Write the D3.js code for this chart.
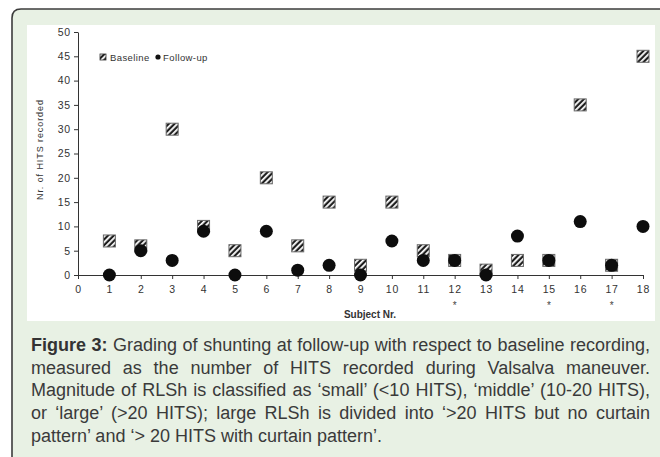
<!DOCTYPE html>
<html>
<head>
<meta charset="utf-8">
<script src="https://cdn.jsdelivr.net/npm/d3@7"></script>
<style>
  body { margin: 0; background: #fff; width: 660px; height: 457px; overflow: hidden; position: relative; }
  svg { position: absolute; left: 0; top: 0; }
  .caption {
    position: absolute; left: 31px; top: 334px; width: 619px;
    font-family: "Liberation Sans", Arial, sans-serif; font-size: 18px;
    line-height: 22.7px; color: #3a3a3a; text-align: justify;
  }
  .caption b { color: #333; }
</style>
</head>
<body>
<script>
// subject numbers and HITS counts
const subjects = d3.range(1, 19);
const baseline = [7, 6, 30, 10, 5, 20, 6, 15, 2, 15, 5, 3, 1, 3, 3, 35, 2, 45];
const followUp = [0, 5, 3, 9, 0, 9, 1, 2, 0, 7, 3, 3, 0, 8, 3, 11, 2, 10];
const starred = [12, 15, 17];
const yTicks = [0, 5, 10, 15, 20, 25, 30, 35, 40, 45, 50];
const xTicks = d3.range(0, 19);

const W = 660, H = 457;
const svg = d3.select('body').append('svg')
    .attr('width', W)
    .attr('height', H);

// hatch pattern for the baseline squares
const defs = svg.append('defs');
const pat = defs.append('pattern')
    .attr('id', 'hatch')
    .attr('patternUnits', 'userSpaceOnUse')
    .attr('width', 4)
    .attr('height', 4)
    .attr('patternTransform', 'rotate(45)');
pat.append('rect').attr('width', 4).attr('height', 4).attr('fill', '#1e1e1e');
pat.append('rect').attr('width', 1.8).attr('height', 4).attr('fill', '#fff');

// green frame with rounded top-left corner
svg.append('path')
    .attr('d', 'M12,460 L12,18 Q12,9 21,9 L662,9 L662,460 Z')
    .attr('fill', '#e8f1e4')
    .attr('stroke', '#3c3c3c')
    .attr('stroke-width', 1.6);

// white plot panel
svg.append('rect')
    .attr('x', 27).attr('y', 25)
    .attr('width', 628).attr('height', 296)
    .attr('fill', '#fff');

const x = d3.scaleLinear().domain([0, 18]).range([78, 643]);
const y = d3.scaleLinear().domain([0, 50]).range([275, 32]);

const tickFont = '"Liberation Sans", Arial, sans-serif';

// y axis
const yAxis = svg.append('g')
    .attr('transform', `translate(${x(0)},0)`)
    .call(d3.axisLeft(y).tickValues(yTicks).tickSize(4).tickPadding(3).tickSizeOuter(0));
yAxis.select('.domain').attr('stroke', '#333');
yAxis.selectAll('.tick line').attr('stroke', '#333');
yAxis.selectAll('text')
    .attr('fill', '#333')
    .style('font-family', tickFont)
    .style('font-size', '10.5px')
    .style('letter-spacing', '0.8px');

// x axis
const xAxis = svg.append('g')
    .attr('transform', `translate(0,${y(0)})`)
    .call(d3.axisBottom(x).tickValues(xTicks).tickFormat(d3.format('d')).tickSize(4).tickPadding(6.5).tickSizeOuter(0));
xAxis.select('.domain').attr('stroke', '#333');
xAxis.selectAll('.tick line').attr('stroke', '#333');
xAxis.selectAll('text')
    .attr('fill', '#333')
    .style('font-family', tickFont)
    .style('font-size', '10.5px')
    .style('letter-spacing', '0.8px');

// asterisks under some subjects
svg.append('g')
    .selectAll('text')
    .data(starred)
    .enter().append('text')
    .attr('x', d => x(d))
    .attr('y', 309)
    .attr('text-anchor', 'middle')
    .attr('fill', '#444')
    .style('font-family', tickFont)
    .style('font-size', '10px')
    .text('*');

// axis titles
svg.append('text')
    .attr('x', 370)
    .attr('y', 318)
    .attr('text-anchor', 'middle')
    .attr('fill', '#333')
    .style('font-family', tickFont)
    .style('font-size', '10px')
    .style('font-weight', 'bold')
    .text('Subject Nr.');

svg.append('text')
    .attr('transform', 'translate(43,150) rotate(-90)')
    .attr('text-anchor', 'middle')
    .attr('fill', '#333')
    .attr('textLength', 100)
    .style('font-family', tickFont)
    .style('font-size', '9px')
    .text('Nr. of HITS recorded');

// baseline squares
const sq = 12;
svg.append('g')
    .selectAll('rect')
    .data(subjects)
    .enter().append('rect')
    .attr('x', (d, i) => x(d) - sq / 2)
    .attr('y', (d, i) => y(baseline[i]) - sq / 2)
    .attr('width', sq)
    .attr('height', sq)
    .attr('fill', 'url(#hatch)')
    .attr('stroke', '#6a6a6a')
    .attr('stroke-width', 1);

// follow-up dots
svg.append('g')
    .selectAll('circle')
    .data(subjects)
    .enter().append('circle')
    .attr('cx', d => x(d))
    .attr('cy', (d, i) => y(followUp[i]))
    .attr('r', 6.5)
    .attr('fill', '#0d0d0d');

// legend
const leg = svg.append('g').attr('transform', 'translate(103,57)');
leg.append('rect')
    .attr('x', -3).attr('y', -3)
    .attr('width', 6).attr('height', 6)
    .attr('fill', 'url(#hatch)')
    .attr('stroke', '#333')
    .attr('stroke-width', 0.8);
leg.append('text')
    .attr('x', 7).attr('y', 3.5)
    .attr('fill', '#333')
    .style('font-family', tickFont)
    .style('font-size', '9.5px')
    .style('letter-spacing', '0.4px')
    .text('Baseline');
leg.append('circle')
    .attr('cx', 55).attr('cy', 0)
    .attr('r', 2.6)
    .attr('fill', '#111');
leg.append('text')
    .attr('x', 60).attr('y', 3.5)
    .attr('fill', '#333')
    .style('font-family', tickFont)
    .style('font-size', '9.5px')
    .style('letter-spacing', '0.4px')
    .text('Follow-up');

// caption
d3.select('body').append('div')
    .attr('class', 'caption')
    .html('<b>Figure 3:</b> Grading of shunting at follow-up with respect to baseline recording, measured as the number of HITS recorded during Valsalva maneuver. Magnitude of RLSh is classified as \u2018small\u2019 (&lt;10 HITS), \u2018middle\u2019 (10-20 HITS), or \u2018large\u2019 (&gt;20 HITS); large RLSh is divided into \u2018&gt;20 HITS but no curtain pattern\u2019 and \u2018&gt; 20 HITS with curtain pattern\u2019.');
</script>
</body>
</html>
